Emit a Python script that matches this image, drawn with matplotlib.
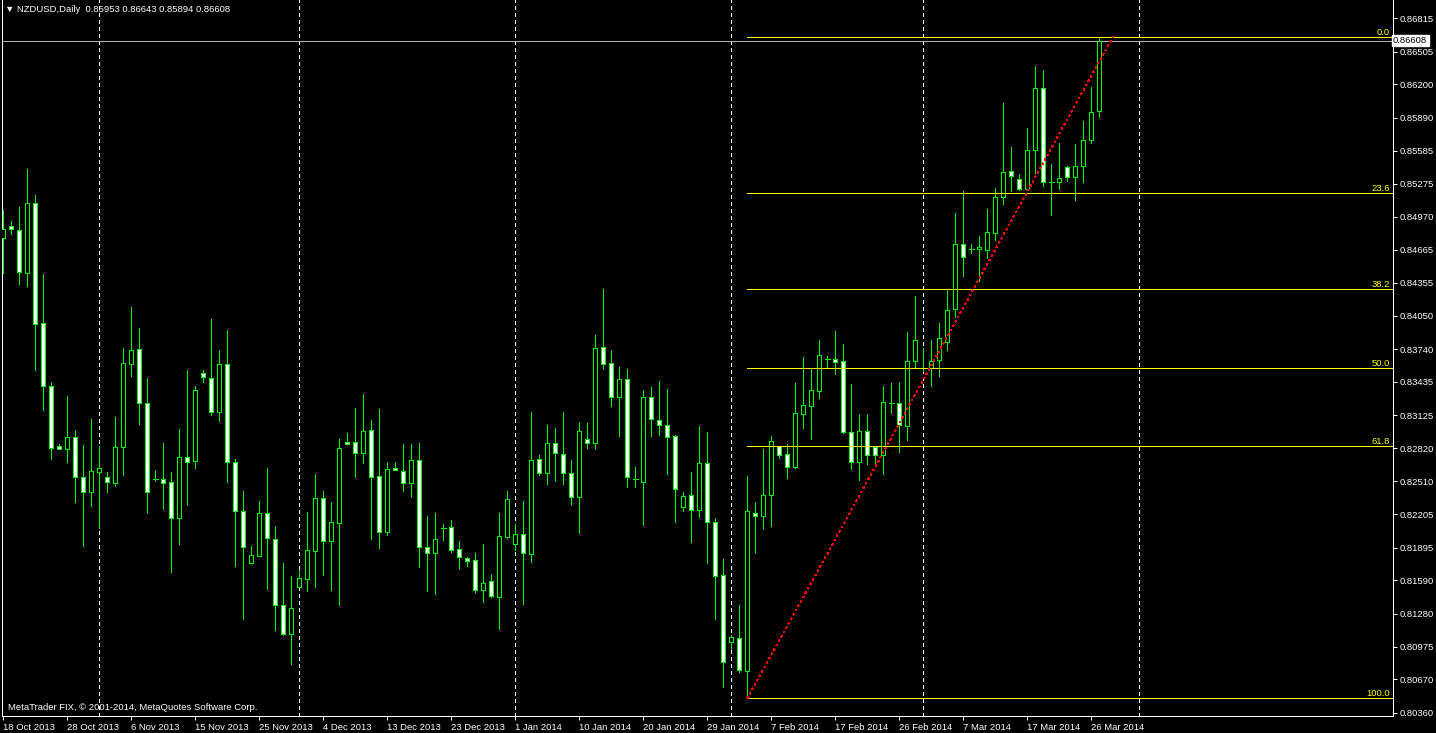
import matplotlib
matplotlib.use('Agg')
import matplotlib.pyplot as plt
import matplotlib.transforms as mtrans
from matplotlib.patches import Rectangle

# daily OHLC, NZDUSD, 18 Oct 2013 .. 27 Mar 2014 (MT4 incl. Sunday bars)
opens = [0.84770, 0.84884, 0.84844, 0.84444, 0.85095, 0.83980, 0.83394, 0.82839, 0.82808, 0.82920,
         0.82548, 0.82409, 0.82595, 0.82548, 0.82492, 0.82827, 0.83604, 0.83738, 0.83236, 0.82532,
         0.82529, 0.82502, 0.82173, 0.82734, 0.82702, 0.83515, 0.83468, 0.83158, 0.83599, 0.82688,
         0.82232, 0.81749, 0.81814, 0.82213, 0.81972, 0.81358, 0.81094, 0.81526, 0.81605, 0.81866,
         0.82353, 0.81959, 0.82126, 0.82873, 0.82873, 0.82777, 0.82985, 0.82557, 0.82042, 0.82632,
         0.82604, 0.82498, 0.82706, 0.81897, 0.81847, 0.82080, 0.82083, 0.81879, 0.81795, 0.81776,
         0.81503, 0.81581, 0.81438, 0.81996, 0.81931, 0.82018, 0.81838, 0.82715, 0.82591, 0.82864,
         0.82762, 0.82585, 0.82368, 0.82907, 0.82864, 0.83757, 0.83608, 0.83292, 0.83459, 0.82529,
         0.82502, 0.83292, 0.83078, 0.83031, 0.82929, 0.82269, 0.82381, 0.82241, 0.82678, 0.82130,
         0.81637, 0.81014, 0.81051, 0.80750, 0.82219, 0.82191, 0.82381, 0.82836, 0.82762, 0.82647,
         0.83139, 0.83214, 0.83353, 0.83651, 0.83645, 0.83626, 0.82966, 0.82688, 0.82976, 0.82827,
         0.82753, 0.83242, 0.83236, 0.83022, 0.83626, 0.83561, 0.83561, 0.83636, 0.83809, 0.84110,
         0.84714, 0.84673, 0.84668, 0.84661, 0.84819, 0.85157, 0.85393, 0.85318, 0.85231, 0.85593,
         0.86164, 0.85290, 0.85290, 0.85430, 0.85337, 0.85439, 0.85681, 0.85953]
highs = [0.85033, 0.84931, 0.85061, 0.85414, 0.85172, 0.84438, 0.83434, 0.82858, 0.83304, 0.82988,
         0.82848, 0.83090, 0.82839, 0.82597, 0.83109, 0.83750, 0.84131, 0.83936, 0.83471, 0.82616,
         0.82867, 0.82597, 0.82997, 0.83546, 0.83397, 0.83546, 0.84020, 0.83731, 0.83917, 0.82718,
         0.82421, 0.81909, 0.82328, 0.82635, 0.82095, 0.81751, 0.81630, 0.81686, 0.82225, 0.82579,
         0.82421, 0.82318, 0.82904, 0.82960, 0.83192, 0.83322, 0.83081, 0.83183, 0.82690, 0.82690,
         0.82858, 0.82858, 0.82867, 0.82188, 0.82216, 0.82114, 0.82151, 0.81956, 0.81807, 0.81844,
         0.81928, 0.81649, 0.82216, 0.82421, 0.82114, 0.82328, 0.83155, 0.82755, 0.83034, 0.83006,
         0.83155, 0.82709, 0.83062, 0.83053, 0.83871, 0.84299, 0.83731, 0.83573, 0.83555, 0.82644,
         0.83360, 0.83387, 0.83443, 0.83369, 0.82941, 0.82411, 0.82597, 0.83025, 0.82969, 0.82170,
         0.81788, 0.81082, 0.81361, 0.82560, 0.82318, 0.82811, 0.82932, 0.82836, 0.82858, 0.83425,
         0.83666, 0.83555, 0.83824, 0.83676, 0.83908, 0.83787, 0.83415, 0.83137, 0.83137, 0.82842,
         0.83397, 0.83425, 0.83434, 0.83899, 0.84233, 0.83753, 0.83824, 0.83982, 0.84299, 0.85005,
         0.85210, 0.84717, 0.84791, 0.85042, 0.85237, 0.86028, 0.85619, 0.85368, 0.85795, 0.86372,
         0.86334, 0.85461, 0.85656, 0.85439, 0.85646, 0.85860, 0.86176, 0.86643]
lows = [0.84450, 0.84813, 0.84348, 0.84329, 0.83548, 0.83176, 0.82721, 0.82808, 0.82693, 0.82321,
        0.81912, 0.82284, 0.82080, 0.82414, 0.82470, 0.82572, 0.83493, 0.83046, 0.82219, 0.82514,
        0.82253, 0.81671, 0.81931, 0.82293, 0.82637, 0.83437, 0.83130, 0.83074, 0.82507, 0.81726,
        0.81228, 0.81749, 0.81814, 0.81512, 0.81131, 0.81085, 0.80815, 0.81526, 0.81494, 0.81531,
        0.81643, 0.81503, 0.81364, 0.82855, 0.82554, 0.82681, 0.81975, 0.81891, 0.82012, 0.82613,
        0.82421, 0.82365, 0.81714, 0.81491, 0.81466, 0.81965, 0.81854, 0.81696, 0.81724, 0.81473,
        0.81389, 0.81438, 0.81138, 0.81987, 0.81872, 0.81370, 0.81763, 0.82569, 0.82489, 0.82514,
        0.82489, 0.82293, 0.82033, 0.82823, 0.82814, 0.83558, 0.83214, 0.82935, 0.82461, 0.82461,
        0.82107, 0.82935, 0.82944, 0.82582, 0.82135, 0.82238, 0.81949, 0.82182, 0.81754, 0.81234,
        0.80601, 0.80955, 0.80741, 0.80494, 0.81847, 0.82067, 0.82098, 0.82730, 0.82544, 0.82637,
        0.83009, 0.82907, 0.83288, 0.83561, 0.83511, 0.82960, 0.82625, 0.82523, 0.82674, 0.82681,
        0.82582, 0.83149, 0.82786, 0.82898, 0.83571, 0.83536, 0.83400, 0.83493, 0.83734, 0.84041,
        0.84422, 0.84636, 0.84376, 0.84587, 0.84754, 0.85091, 0.85212, 0.85222, 0.85222, 0.85380,
        0.85259, 0.84989, 0.85231, 0.85305, 0.85129, 0.85296, 0.85659, 0.85894]
closes = [0.84856, 0.84853, 0.84454, 0.85095, 0.83973, 0.83394, 0.82818, 0.82808, 0.82920, 0.82548,
          0.82409, 0.82604, 0.82632, 0.82502, 0.82827, 0.83608, 0.83729, 0.83236, 0.82414, 0.82532,
          0.82498, 0.82173, 0.82734, 0.82693, 0.83357, 0.83483, 0.83158, 0.83601, 0.82693, 0.82232,
          0.81897, 0.81823, 0.82213, 0.81981, 0.81358, 0.81089, 0.81330, 0.81609, 0.81869, 0.82353,
          0.81959, 0.82130, 0.82818, 0.82855, 0.82777, 0.82976, 0.82554, 0.82042, 0.82622, 0.82613,
          0.82492, 0.82706, 0.81903, 0.81847, 0.81972, 0.82080, 0.81875, 0.81810, 0.81773, 0.81503,
          0.81563, 0.81447, 0.82000, 0.82344, 0.82018, 0.81847, 0.82706, 0.82591, 0.82864, 0.82777,
          0.82591, 0.82368, 0.82976, 0.82864, 0.83747, 0.83604, 0.83292, 0.83459, 0.82554, 0.82529,
          0.83292, 0.83087, 0.83031, 0.82925, 0.82437, 0.82371, 0.82241, 0.82678, 0.82130, 0.81633,
          0.80828, 0.81061, 0.80759, 0.82232, 0.82186, 0.82381, 0.82883, 0.82758, 0.82647, 0.83143,
          0.83217, 0.83357, 0.83682, 0.83651, 0.83623, 0.82972, 0.82688, 0.82976, 0.82753, 0.82753,
          0.83245, 0.83242, 0.83031, 0.83626, 0.83822, 0.83561, 0.83626, 0.83840, 0.84100, 0.84714,
          0.84593, 0.84673, 0.84686, 0.84828, 0.85151, 0.85383, 0.85346, 0.85231, 0.85588, 0.86164,
          0.85290, 0.85290, 0.85328, 0.85337, 0.85439, 0.85681, 0.85941, 0.86608]

date_labels = ['18 Oct 2013', '28 Oct 2013', '6 Nov 2013', '15 Nov 2013', '25 Nov 2013',
               '4 Dec 2013', '13 Dec 2013', '23 Dec 2013', '1 Jan 2014', '10 Jan 2014',
               '20 Jan 2014', '29 Jan 2014', '7 Feb 2014', '17 Feb 2014', '26 Feb 2014',
               '7 Mar 2014', '17 Mar 2014', '26 Mar 2014']
label_step = 8
month_starts = [12, 37, 64, 91, 115, 142]
price_ticks = [0.86815, 0.86505, 0.86200, 0.85890, 0.85585, 0.85275, 0.84970, 0.84665,
               0.84355, 0.84050, 0.83740, 0.83435, 0.83125, 0.82820, 0.82510, 0.82205,
               0.81895, 0.81590, 0.81280, 0.80975, 0.80670, 0.80360]
fib_levels = [0.0, 23.6, 38.2, 50.0, 61.8, 100.0]
fib_low, fib_high = 0.80494, 0.86643
fib_start, fib_end = 93, 138.7
last_price = 0.86608
header = '\u25bc NZDUSD,Daily  0.85953 0.86643 0.85894 0.86608'
credit = 'MetaTrader FIX, \u00a9 2001-2014, MetaQuotes Software Corp.'

plt.rcParams['font.family'] = ['Liberation Sans', 'DejaVu Sans']
px = 0.72  # one pixel at 100 dpi
green = '#00ff00'
fs = 6.8
aa = False

fig = plt.figure(figsize=(14.36, 7.33), dpi=100, facecolor='black')
ax = fig.add_axes([2 / 1436, 17.3 / 733, 1391 / 1436, 715.7 / 733])
ax.set_facecolor('black')
ax.set_xlim(-0.1625, 173.71)
ax.set_ylim(0.80332, 0.86985)

# month separators
for m in month_starts:
    ax.axvline(m, color='white', lw=px, ls=(0, (3, 3)), zorder=1, antialiased=aa)

# candles
for i in range(len(opens)):
    o, h, l, c = opens[i], highs[i], lows[i], closes[i]
    ax.vlines(i, l, h, color=green, lw=px, zorder=3, antialiased=aa)
    if c == o:
        ax.hlines(o, i - 0.28, i + 0.28, color=green, lw=px, zorder=4, antialiased=aa)
    else:
        fill = 'black' if c > o else 'white'
        ax.add_patch(Rectangle((i - 0.25, min(o, c)), 0.5, abs(c - o), facecolor=fill,
                               edgecolor=green, lw=px, zorder=4, antialiased=aa))

# fibonacci retracement
rng = fib_high - fib_low
blend = mtrans.blended_transform_factory(ax.transAxes, ax.transData)
for lv in fib_levels:
    y = fib_high - rng * lv / 100
    ax.hlines(y, fib_start, 173.71, color='#ffff00', lw=px, zorder=5, antialiased=aa)
    ax.text(0.998, y, f'{lv:.1f}', transform=blend,
            color='#ffff00', fontsize=fs, ha='right', va='bottom', zorder=6)
ax.plot([fib_start, fib_end], [fib_low, fib_high], color='#ff0000', lw=px, ls=(0, (1.5, 4)),
        zorder=5, antialiased=aa)

# last price line
ax.axhline(last_price, color='#b4b4b4', lw=px, zorder=2, antialiased=aa)

# axes styling
for s in ['left', 'bottom', 'right']:
    ax.spines[s].set_color('white')
    ax.spines[s].set_linewidth(px)
    ax.spines[s].set_antialiased(aa)
ax.spines['top'].set_visible(False)

ax.set_xticks(range(0, len(date_labels) * label_step, label_step))
ax.set_xticklabels(date_labels)
for t in ax.get_xticklabels():
    t.set_ha('left')
ax.yaxis.tick_right()
ax.set_yticks(price_ticks)
ax.set_yticklabels([f'{p:.5f}' for p in price_ticks])
ax.tick_params(colors='white', labelcolor='white', labelsize=fs, length=3, width=px, pad=2)

ax.text(1.0, last_price, '0.86608', transform=blend,
        color='black', fontsize=fs, ha='left', va='center', zorder=10, clip_on=False,
        bbox=dict(boxstyle='square,pad=0.15', facecolor='white', edgecolor='white'))

fig.text(5 / 1436, 1 - 10 / 733, header, color='white', fontsize=fs, ha='left', va='center')
ax.text(6 / 1391, (715.7 - 707) / 715.7, credit, transform=ax.transAxes, color='white',
        fontsize=fs, ha='left', va='center')

fig.savefig('out.png', dpi=100, facecolor='black')
